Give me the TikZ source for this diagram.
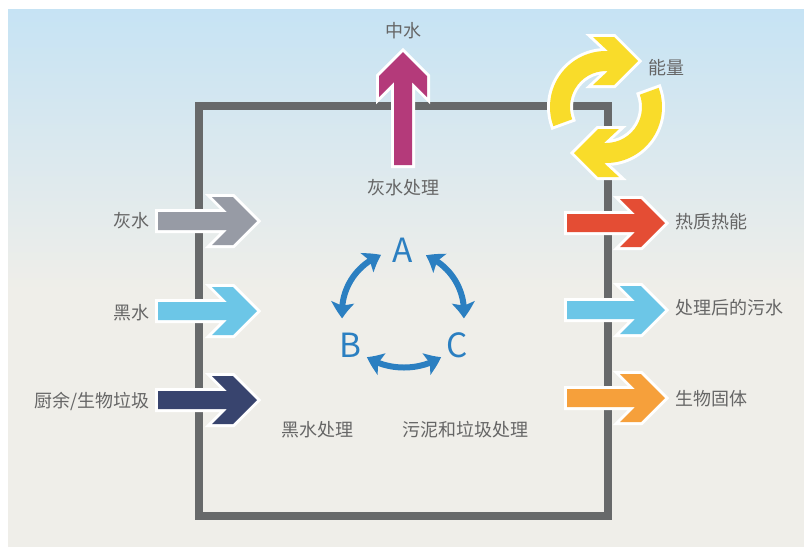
\documentclass[tikz,border=0pt]{standalone}
\usepackage{fontspec}
\setmainfont{Noto Sans CJK SC}
\usetikzlibrary{arrows.meta,bending}
\definecolor{bgtop}{HTML}{C6E3F4}
\definecolor{bgbot}{HTML}{EFEEE9}
\definecolor{boxgrey}{HTML}{67696A}
\definecolor{txtgrey}{HTML}{666666}
\definecolor{cgrey}{HTML}{979BA5}
\definecolor{clblue}{HTML}{6CC6E7}
\definecolor{cnavy}{HTML}{38446E}
\definecolor{cred}{HTML}{E44D34}
\definecolor{corange}{HTML}{F6A03B}
\definecolor{cmag}{HTML}{B43A7A}
\definecolor{cyellow}{HTML}{F9DC2A}
\definecolor{cabc}{HTML}{2B7FC1}
\newcommand{\hchev}[4]{% color, tail x, tip x, centre y
  \path[fatarrow, fill=#1] (#2,#4-9) -- (#3-30,#4-9) -- (#3-45,#4-24) -- (#3-24,#4-24)
    -- (#3,#4) -- (#3-24,#4+24) -- (#3-45,#4+24) -- (#3-30,#4+9) -- (#2,#4+9) -- cycle;}
\begin{document}
\begin{tikzpicture}[x=0.75pt,y=-0.75pt,
  fatarrow/.style={preaction={draw=white,line width=4.5pt}},
  lbl/.style={text=txtgrey,font=\fontsize{13.5}{16}\selectfont,inner sep=0pt},
  abcl/.style={text=cabc,font=\fontsize{25}{28}\selectfont,inner sep=0pt},
  abcarrow/.style={draw=cabc,line width=4.5pt,
    {Stealth[length=12pt,width=17pt,inset=2.5pt,bend]}-{Stealth[length=12pt,width=17pt,inset=2.5pt,bend]}}]
\useasboundingbox (0,0) rectangle (804,547);
% background
\fill[white] (0,0) rectangle (804,547);
\shade[top color=bgtop,bottom color=bgbot] (8,9) rectangle (804,290);
\fill[bgbot] (8,289.5) rectangle (804,547);
% system boundary
\draw[boxgrey,line width=6pt] (199,106) rectangle (608,516);
% inflows
\hchev{cgrey}{158}{257}{221}
\hchev{clblue}{158}{257}{311}
\hchev{cnavy}{158}{257}{400}
% outflows
\hchev{cred}{567}{665}{223}
\hchev{clblue}{567}{665}{310}
\hchev{corange}{567}{665}{398}
% reclaimed water arrow
\path[fatarrow, fill=cmag] (394,165) -- (394,82) -- (379,97) -- (379,76) -- (403,52)
  -- (427,76) -- (427,97) -- (412,82) -- (412,165) -- cycle;
% energy cycle
\begin{scope}[shift={(606,107)}]
  \path[fatarrow, fill=cyellow] (160:56) arc[start angle=160,end angle=270,radius=56]
    -- (2,-56) -- (-13,-70) -- (8,-70) -- (32,-46) -- (8,-22) -- (-13,-22) -- (2,-36)
    -- (0,-36) arc[start angle=270,end angle=160,radius=36] -- cycle;
  \path[fatarrow, fill=cyellow] (340:56) arc[start angle=340,end angle=450,radius=56]
    -- (-2,56) -- (13,70) -- (-8,70) -- (-32,46) -- (-8,22) -- (13,22) -- (-2,36)
    -- (0,36) arc[start angle=450,end angle=340,radius=36] -- cycle;
\end{scope}
% A B C
\node[abcl] (A) at (403,250) {A};
\node[abcl] (B) at (350,345) {B};
\node[abcl] (C) at (457,345) {C};
\draw[abcarrow] ([shift={(403,312)}]174:61) arc[start angle=174,end angle=249,radius=61];
\draw[abcarrow] ([shift={(403,312)}]292:61) arc[start angle=292,end angle=366,radius=61];
\coordinate (bc1) at (367,357);
\coordinate (bc2) at (441,357);
\draw[abcarrow] (bc1) .. controls (388,371) and (420,371) .. (bc2);
% labels
\node[lbl] (zhongshui) at (403,31) {中水};
\node[lbl,anchor=west] (nengliang) at (648,68) {能量};
\node[lbl] (huishuichuli) at (403,188) {灰水处理};
\node[lbl] (heishuichuli) at (317,430) {黑水处理};
\node[lbl] (wuni) at (465,430) {污泥和垃圾处理};
\node[lbl,anchor=east] (huishui) at (150,221) {灰水};
\node[lbl,anchor=east] (heishui) at (150,313) {黑水};
\node[lbl,anchor=east] (chuyu) at (150,401) {厨余/生物垃圾};
\node[lbl,anchor=west] (rezhi) at (675,222) {热质热能};
\node[lbl,anchor=west] (chulihou) at (675,308) {处理后的污水};
\node[lbl,anchor=west] (shengwu) at (675,399) {生物固体};
\end{tikzpicture}
\end{document}
